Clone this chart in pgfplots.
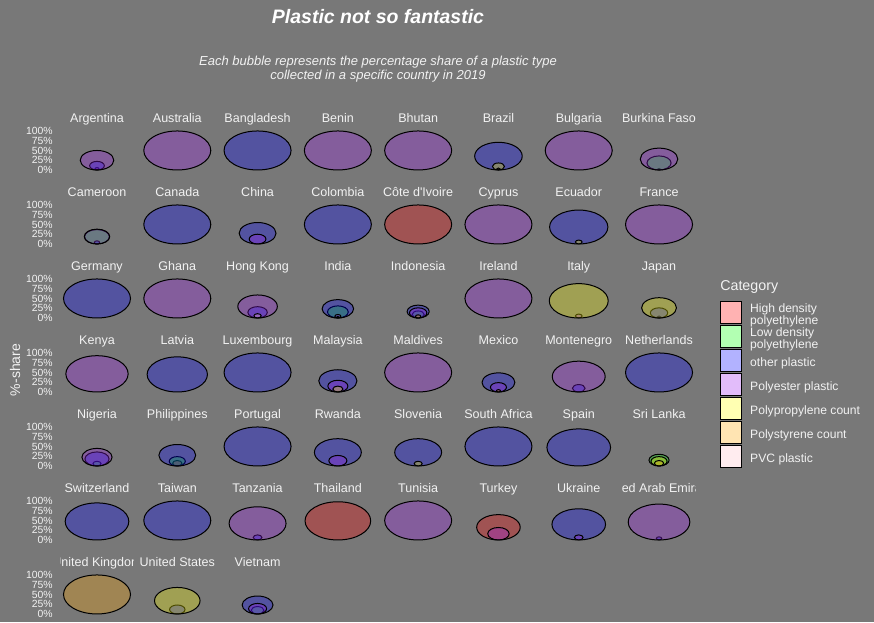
\documentclass[border=0pt]{standalone}
\usepackage{pgfplots}
\pgfplotsset{compat=1.18}
\usepackage{pgfplotstable}
\usepackage{fontspec}
\setmainfont{Liberation Sans}
\definecolor{bg}{RGB}{120,120,120}
\definecolor{txt}{RGB}{242,242,242}
\definecolor{cHD}{RGB}{255,0,0}
\definecolor{cLD}{RGB}{0,255,0}
\definecolor{cOT}{RGB}{0,0,255}
\definecolor{cPE}{RGB}{160,32,240}
\definecolor{cPP}{RGB}{255,255,0}
\definecolor{cPS}{RGB}{255,165,0}
\definecolor{cPV}{RGB}{255,192,203}

% col = facet column, row = facet row, v = share (%)
% High density polyethylene
\pgfplotstableread{
col row v
0 0 6
7 0 4
4 1 100
7 2 5
1 4 14
3 5 98
5 5 65
}\tHD
% Low density polyethylene
\pgfplotstableread{
col row v
7 0 36
0 1 37
3 2 31
4 2 18
0 4 12
1 4 24
7 4 30
2 6 19
}\tLD
% other plastic
\pgfplotstableread{
col row v
0 0 22
2 0 100
5 0 71
0 1 8
1 1 100
2 1 55
3 1 100
6 1 87
0 2 100
2 2 29
3 2 47
4 2 33
7 2 26
1 3 90
2 3 100
3 3 57
5 3 49
6 3 19
7 3 100
0 4 36
1 4 55
2 4 100
3 4 70
4 4 70
5 4 100
6 4 95
0 5 95
1 5 100
2 5 13
6 5 80
7 5 8
1 6 23
2 6 46
}\tOT
% Polyester plastic
\pgfplotstableread{
col row v
0 0 50
1 0 100
3 0 100
4 0 100
6 0 100
7 0 56
0 1 38
2 1 25
5 1 100
7 1 100
1 2 100
2 2 59
3 2 9
4 2 26
5 2 100
6 2 10
0 3 93
3 3 30
4 3 100
5 3 24
6 3 79
0 4 45
3 4 27
2 5 85
4 5 100
5 5 32
6 5 13
7 5 92
2 6 27
}\tPE
% Polypropylene count
\pgfplotstableread{
col row v
5 0 18
6 1 10
6 2 88
7 2 52
3 3 15
4 4 12
7 4 24
1 6 68
}\tPP
% Polystyrene count
\pgfplotstableread{
col row v
5 0 5
3 2 4
4 2 8
5 3 6
7 4 14
0 6 100
}\tPS
% PVC plastic
\pgfplotstableread{
col row v
2 2 11
}\tPV

\pgfplotsset{bubble/.style={scatter, only marks, mark=*, line width=0.75pt, forget plot,
  visualization depends on={\thisrow{v} \as \vv},
  scatter/@pre marker code/.code={\pgfmathsetmacro\rad{0.14625*\vv}\scope[mark size=\rad pt, fill=#1, draw=black, fill opacity=0.3]},
  scatter/@post marker code/.code={\endscope},
  mark options={xscale=1.718}}}

\newcommand\facet[3]{\node[anchor=base,text=txt,font=\fontsize{9.4}{10}\selectfont] at (axis cs:#1,{-189.74*#2+121.6}) {#3};}
\newcommand\cfacet[3]{\begin{scope}\clip (axis cs:{#1-0.455},{-189.74*#2+105}) rectangle (axis cs:{#1+0.455},{-189.74*#2+160});
\node[anchor=base,text=txt,font=\fontsize{9.4}{10}\selectfont] at (axis cs:#1,{-189.74*#2+121.6}) {#3};\end{scope}}
\newcommand\lent[1]{\parbox[c][16.5pt][c]{88pt}{\raggedright #1}}
\newcommand\lkey[1]{\addlegendimage{legend image code/.code={\draw[fill=#1!30!white,draw=black,line width=0.75pt] (0pt,-8.25pt) rectangle (15.75pt,8.25pt);}}}

\begin{document}
\begin{tikzpicture}
\fill[bg] (0,0) rectangle (655.5pt,466.5pt);
\node[font=\bfseries\itshape\fontsize{14.6}{16}\selectfont, text=white] at (283.5pt,453.75pt) {Plastic not so fantastic};
\node[font=\itshape\fontsize{9.75}{10.5}\selectfont, text=txt, align=center] at (283.5pt,414.4pt) {Each bubble represents the percentage share of a plastic type\\collected in a specific country in 2019};
\node[rotate=90, font=\fontsize{10.5}{12}\selectfont, text=txt] at (11.25pt,189pt) {\%-share};
\node[anchor=west, font=\fontsize{10.7}{12}\selectfont, text=txt, inner sep=0pt] at (540pt,251.25pt) {Category};
\begin{axis}[
  at={(42.64pt,4.575pt)}, anchor=south west,
  x=60.2175pt, y=0.2925pt,
  xmin=-0.5, xmax=7.5, ymin=-1143.4, ymax=105,
  clip=false, hide x axis,
  axis line style={draw=none}, major tick length=0pt,
  ytick={-1138.44,-1113.44,-1088.44,-1063.44,-1038.44,
         -948.7,-923.7,-898.7,-873.7,-848.7,
         -758.96,-733.96,-708.96,-683.96,-658.96,
         -569.22,-544.22,-519.22,-494.22,-469.22,
         -379.48,-354.48,-329.48,-304.48,-279.48,
         -189.74,-164.74,-139.74,-114.74,-89.74,
         0,25,50,75,100},
  yticklabels={0\%,25\%,50\%,75\%,100\%,0\%,25\%,50\%,75\%,100\%,0\%,25\%,50\%,75\%,100\%,0\%,25\%,50\%,75\%,100\%,0\%,25\%,50\%,75\%,100\%,0\%,25\%,50\%,75\%,100\%,0\%,25\%,50\%,75\%,100\%},
  yticklabel style={font=\fontsize{7.8}{8}\selectfont, text=txt, inner sep=0pt, xshift=-2.9pt},
  legend cell align=left,
  legend style={at={(1.0323,0.6474)}, anchor=north west, draw=none, fill=none, text=txt,
    font=\fontsize{9.1}{8.6}\selectfont, row sep=0.75pt, column sep=6pt, inner sep=0pt,
    nodes={inner sep=0pt}},
]
\lkey{cHD}\addlegendentry{\lent{High density\\polyethylene}}
\lkey{cLD}\addlegendentry{\lent{Low density\\polyethylene}}
\lkey{cOT}\addlegendentry{\lent{other plastic}}
\lkey{cPE}\addlegendentry{\lent{Polyester plastic}}
\lkey{cPP}\addlegendentry{\lent{Polypropylene count}}
\lkey{cPS}\addlegendentry{\lent{Polystyrene count}}
\lkey{cPV}\addlegendentry{\lent{PVC plastic}}

\addplot[bubble=cHD] table[x=col, y expr={-189.74*\thisrow{row}+0.5*\thisrow{v}}] {\tHD};
\addplot[bubble=cLD] table[x=col, y expr={-189.74*\thisrow{row}+0.5*\thisrow{v}}] {\tLD};
\addplot[bubble=cOT] table[x=col, y expr={-189.74*\thisrow{row}+0.5*\thisrow{v}}] {\tOT};
\addplot[bubble=cPE] table[x=col, y expr={-189.74*\thisrow{row}+0.5*\thisrow{v}}] {\tPE};
\addplot[bubble=cPP] table[x=col, y expr={-189.74*\thisrow{row}+0.5*\thisrow{v}}] {\tPP};
\addplot[bubble=cPS] table[x=col, y expr={-189.74*\thisrow{row}+0.5*\thisrow{v}}] {\tPS};
\addplot[bubble=cPV] table[x=col, y expr={-189.74*\thisrow{row}+0.5*\thisrow{v}}] {\tPV};

\facet{0}{0}{Argentina}\facet{1}{0}{Australia}\facet{2}{0}{Bangladesh}\facet{3}{0}{Benin}
\facet{4}{0}{Bhutan}\facet{5}{0}{Brazil}\facet{6}{0}{Bulgaria}\facet{7}{0}{Burkina Faso}
\facet{0}{1}{Cameroon}\facet{1}{1}{Canada}\facet{2}{1}{China}\facet{3}{1}{Colombia}
\facet{4}{1}{Côte d\textquotesingle Ivoire}\facet{5}{1}{Cyprus}\facet{6}{1}{Ecuador}\facet{7}{1}{France}
\facet{0}{2}{Germany}\facet{1}{2}{Ghana}\facet{2}{2}{Hong Kong}\facet{3}{2}{India}
\facet{4}{2}{Indonesia}\facet{5}{2}{Ireland}\facet{6}{2}{Italy}\facet{7}{2}{Japan}
\facet{0}{3}{Kenya}\facet{1}{3}{Latvia}\facet{2}{3}{Luxembourg}\facet{3}{3}{Malaysia}
\facet{4}{3}{Maldives}\facet{5}{3}{Mexico}\facet{6}{3}{Montenegro}\facet{7}{3}{Netherlands}
\facet{0}{4}{Nigeria}\facet{1}{4}{Philippines}\facet{2}{4}{Portugal}\facet{3}{4}{Rwanda}
\facet{4}{4}{Slovenia}\facet{5}{4}{South Africa}\facet{6}{4}{Spain}\facet{7}{4}{Sri Lanka}
\facet{0}{5}{Switzerland}\facet{1}{5}{Taiwan}\facet{2}{5}{Tanzania}\facet{3}{5}{Thailand}
\facet{4}{5}{Tunisia}\facet{5}{5}{Turkey}\facet{6}{5}{Ukraine}\cfacet{7}{5}{United Arab Emirates}
\cfacet{0}{6}{United Kingdom}\facet{1}{6}{United States}\facet{2}{6}{Vietnam}
\end{axis}
\pgfresetboundingbox
\path[use as bounding box] (0,0) rectangle (655.5pt,466.5pt);
\end{tikzpicture}
\end{document}
